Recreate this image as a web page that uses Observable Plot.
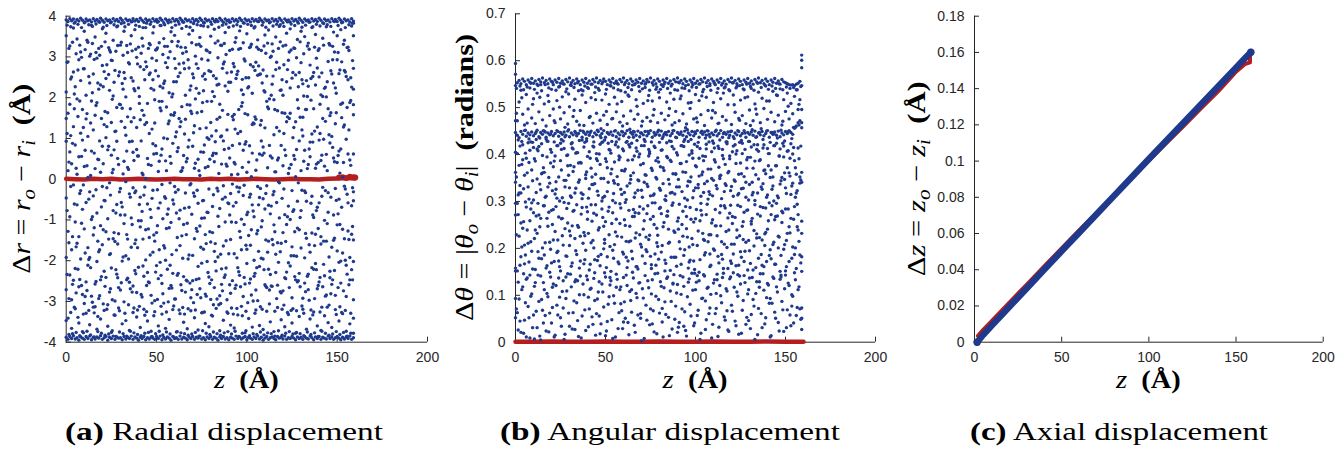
<!DOCTYPE html>
<html><head><meta charset="utf-8">
<script src="https://cdn.jsdelivr.net/npm/d3@7"></script>
<script src="https://cdn.jsdelivr.net/npm/@observablehq/plot@0.6"></script>
<style>
body{margin:0;background:#fff;}
#wrap{position:relative;width:1344px;height:453px;overflow:hidden;background:#fff;}
.panel{position:absolute;top:0;width:448px;height:390px;}
.cap{position:absolute;top:417px;font-family:"Liberation Serif","Times New Roman",serif;font-size:26px;line-height:30px;white-space:nowrap;transform:translateX(-50%);color:#000;}
</style></head><body>
<div id="wrap">
  <div class="panel" id="pa" style="left:0px"></div>
  <div class="panel" id="pb" style="left:448px"></div>
  <div class="panel" id="pc" style="left:896px"></div>
  <div class="cap" data-w="318" style="left:224px"><b>(a)</b> Radial displacement</div>
  <div class="cap" data-w="340" style="left:670px"><b>(b)</b> Angular displacement</div>
  <div class="cap" data-w="298" style="left:1119px"><b>(c)</b> Axial displacement</div>
</div>
<script>
// ---------- shared axis ticks ----------
const xTicks = [0, 50, 100, 150, 200];
const yTicksA = [-4, -3, -2, -1, 0, 1, 2, 3, 4];
const yTicksB = [0, 0.1, 0.2, 0.3, 0.4, 0.5, 0.6, 0.7];
const yTicksC = [0, 0.02, 0.04, 0.06, 0.08, 0.1, 0.12, 0.14, 0.16, 0.18];

// ---------- (a) radial displacement: [z, Δr values...] ----------
const radialCols = [
[0,3.91,-3.88,3.52,2.14,-0.46,-2.71,0.93,1.49,-1.92,-3.47],
[1,3.87,-3.93,-3.41,1.62,-1.28,0.21,2.88],
[2,3.94,-3.86,3.27,-2.35,0.67,-0.92,1.84],
[3,3.89,-3.91,-3.66,2.51,-1.73,0.38,-2.96],
[4,3.93,-3.84,3.71,-0.14,1.29,-2.48,2.63],
[5,3.86,-3.92,-3.18,0.84,-1.05,2.27,-2.19],
[6,3.92,-3.89,3.44,-1.57,1.97,-0.63,0.12],
[7,3.88,-3.95,-3.53,2.93,-2.64,0.55,-1.41],
[8,3.95,-3.87,3.12,1.13,-0.28,-1.96,2.42],
[9,3.9,-3.9,-3.74,-2.83,0.96,1.71,-0.74],
[10,3.84,-3.93,3.63,-1.22,2.71,-3.05,0.31],
[11,3.93,-3.86,-3.29,1.48,-0.57,2.06,-2.52],
[12,3.89,-3.91,3.36,-2.11,0.04,1.05,-1.68],
[13,3.91,-3.85,-3.57,2.36,-1.92,-0.31,3.02],
[14,3.86,-3.94,3.78,0.69,-2.87,1.92,-0.99],
[15,3.94,-3.88,-3.14,-0.41,2.58,-1.37,1.21],
[16,3.88,-3.92,3.49,-2.57,1.57,0.26,-3.13],
[17,3.92,-3.87,-3.68,1.88,-0.83,2.97,-2.02],
[18,3.87,-3.9,3.21,-1.78,0.48,-2.93,2.21],
[19,3.95,-3.84,-3.43,0.17,2.31,-1.14,-2.47],
[20,3.9,-3.93,3.69,2.79,-1.61,0.81,-0.18],
[21,3.85,-3.89,-3.22,-2.26,1.34,-0.52,2.64],
[22,3.93,-3.86,3.58,1.02,-2.41,2.47,-1.29],
[23,3.89,-3.95,-3.61,-0.97,0.72,-3.08,1.63],
[24,3.91,-3.88,3.17,2.18,-0.09,-1.85,-2.77],
[25,3.86,-3.91,-3.76,1.39,-2.18,0.59,2.92],
[26,3.94,-3.85,3.41,-1.46,2.04,-0.77,0.24],
[27,3.88,-3.93,-3.34,2.67,-2.99,1.17,-1.53],
[28,3.92,-3.87,3.74,-0.62,0.93,-2.33,1.76],
[29,3.87,-3.9,-3.16,0.36,-1.34,2.54,-2.66],
[30,3.95,-3.89,3.29,-2.72,1.83,-0.23,-0.88],
[31,3.9,-3.94,-3.55,1.74,-0.68,-2.01,2.35],
[32,3.84,-3.86,3.63,-1.09,2.62,0.44,-3.01],
[33,3.93,-3.92,-3.47,2.02,-1.88,-0.06,1.08],
[34,3.89,-3.88,3.11,-2.43,0.29,1.53,-1.47],
[35,3.91,-3.91,-3.71,0.92,-2.53,2.83,-0.36],
[36,3.86,-3.85,3.52,-1.67,1.41,-0.95,2.49],
[37,3.94,-3.93,-3.27,2.41,-0.21,-2.62,0.66],
[38,3.88,-3.87,3.67,-0.33,2.17,-1.58,-2.24],
[39,3.92,-3.9,-3.38,1.27,-2.78,0.73,2.99],
[40,3.87,-3.95,3.24,-2.16,0.57,2.24,-1.02],
[41,3.95,-3.88,-3.64,2.76,-1.17,-0.44,1.46],
[42,3.9,-3.91,3.46,-0.79,1.69,-2.89,0.15],
[43,3.85,-3.86,-3.19,1.57,-0.39,2.69,-2.38],
[44,3.93,-3.94,3.72,-1.98,2.88,0.02,-1.24],
[45,3.89,-3.89,-3.48,0.51,-2.29,1.86,-0.61],
[46,3.91,-3.92,3.33,-2.54,1.12,-1.43,2.57],
[47,3.86,-3.87,-3.73,2.23,-0.94,0.34,-2.85],
[48,3.94,-3.9,3.59,-0.27,2.44,-1.79,0.87],
[49,3.88,-3.93,-3.25,1.95,-1.52,-2.98,1.38],
[50,3.92,-3.86,3.18,-1.31,0.63,2.91,-2.12],
[51,3.87,-3.91,-3.6,2.53,-2.44,0.19,-0.71],
[52,3.95,-3.85,3.77,-2.04,1.75,-0.58,2.28],
[53,3.9,-3.94,-3.31,0.74,-0.13,-2.56,1.91],
[54,3.84,-3.88,3.45,-1.63,2.35,1.01,-3.04],
[55,3.93,-3.92,-3.66,2.86,-1.99,-0.47,0.45],
[56,3.89,-3.87,3.26,-0.86,0.99,-2.21,2.74],
[57,3.91,-3.9,-3.44,1.43,-2.68,2.12,-1.19],
[58,3.86,-3.95,3.62,-2.61,0.39,-1.06,1.58],
[59,3.94,-3.86,-3.2,2.09,-0.51,0.88,-2.31],
[60,3.88,-3.91,3.53,-0.18,1.63,-2.94,2.96],
[61,3.92,-3.89,-3.75,1.16,-1.74,2.39,-0.83],
[62,3.87,-3.93,3.38,-2.31,2.52,-0.26,0.77],
[63,3.95,-3.85,-3.3,2.61,-0.76,-1.63,1.29],
[64,3.9,-3.92,3.7,-1.39,0.21,1.78,-2.73],
[65,3.85,-3.88,-3.51,0.58,-2.39,2.85,-1.11],
[66,3.93,-3.9,3.23,-2.77,1.47,-0.34,2.06],
[67,3.89,-3.94,-3.67,1.83,-1.08,-2.5,0.51],
[68,3.91,-3.87,3.56,-0.69,2.73,0.96,-1.86],
[69,3.86,-3.91,-3.23,2.29,-2.91,-0.11,1.67],
[70,3.94,-3.86,3.65,-1.87,0.81,2.58,-2.49],
[71,3.88,-3.93,-3.4,0.27,-1.46,1.31,-0.42],
[72,3.92,-3.88,3.3,-2.46,2.23,-1.21,2.83],
[73,3.87,-3.9,-3.7,2.72,-0.59,0.49,-2.14],
[74,3.95,-3.85,3.48,-1.15,1.24,-2.69,0.09],
[75,3.9,-3.92,-3.28,1.66,-2.06,2.95,-0.96],
[76,3.84,-3.89,3.76,-0.52,0.66,-1.72,2.17],
[77,3.93,-3.94,-3.54,2.45,-2.82,0.28,-1.36],
[78,3.89,-3.87,3.15,-2.02,1.91,-0.81,1.02],
[79,3.91,-3.91,-3.62,0.98,-0.24,-2.4,2.66],
[80,3.86,-3.86,3.51,-1.54,2.64,1.39,-2.95],
[81,3.94,-3.93,-3.36,2.15,-1.31,-0.67,0.58],
[82,3.88,-3.88,3.68,-2.66,0.43,2.03,-1.77],
[83,3.92,-3.9,-3.17,0.63,-2.25,1.19,2.47],
[84,3.87,-3.95,3.39,-0.91,2.98,-1.91,-0.29],
[85,3.95,-3.87,-3.72,1.52,-0.72,-2.86,1.84],
[86,3.9,-3.91,3.28,-2.2,1.06,0.37,-2.58],
[87,3.85,-3.86,-3.46,2.83,-1.64,-0.16,0.94],
[88,3.93,-3.92,3.6,-0.44,2.29,-2.35,-1.05],
[89,3.89,-3.89,-3.26,1.21,-2.96,2.61,0.32],
[90,3.91,-3.94,3.73,-1.83,0.76,-0.6,2.38],
[91,3.86,-3.88,-3.58,2.38,-0.35,-1.48,-2.8],
[92,3.94,-3.9,3.19,-2.49,1.54,0.83,-0.12],
[93,3.88,-3.93,-3.65,0.41,-1.83,2.76,1.59],
[94,3.92,-3.85,3.47,-1.06,2.47,-2.6,-0.57],
[95,3.87,-3.91,-3.33,2.65,-2.17,0.12,1.12],
[96,3.95,-3.87,3.64,-0.21,0.87,-1.28,-2.36],
[97,3.9,-3.92,-3.12,1.79,-0.98,2.19,-1.73],
[98,3.84,-3.89,3.35,-2.88,2.08,-0.4,0.71],
[99,3.93,-3.86,-3.77,0.86,-2.57,1.61,2.9],
[100,3.89,-3.94,3.57,-1.72,0.17,-0.87,-2.07],
[101,3.91,-3.88,-3.42,2.27,-1.38,2.49,0.42],
[102,3.86,-3.9,3.25,-0.37,2.81,-2.45,-1.62],
[103,3.94,-3.93,-3.63,1.34,-0.63,0.64,2.11],
[104,3.88,-3.87,3.71,-2.38,1.36,-1.99,-0.92],
[105,3.92,-3.91,-3.21,0.22,-2.72,2.87,1.47],
[106,3.87,-3.85,3.42,-1.26,2.55,-0.18,-2.98],
[107,3.95,-3.92,-3.59,2.57,-0.45,-2.14,0.62],
[108,3.9,-3.88,3.16,-1.94,0.94,1.44,-1.17],
[109,3.85,-3.95,-3.69,0.79,-1.96,2.68,-0.48],
[110,3.93,-3.9,3.54,-2.59,2.14,-0.73,1.26],
[111,3.89,-3.86,-3.24,1.91,-0.16,-2.66,2.53],
[112,3.91,-3.93,3.66,-0.64,1.73,-1.52,-2.21],
[113,3.86,-3.89,-3.5,2.99,-2.34,0.57,-0.85],
[114,3.94,-3.87,3.32,-1.48,0.52,2.33,-2.63],
[115,3.88,-3.91,-3.74,1.09,-1.12,-0.3,1.95],
[116,3.92,-3.94,3.49,-2.29,2.69,-1.84,0.18],
[117,3.87,-3.86,-3.15,0.47,-2.6,1.68,-1.56],
[118,3.95,-3.9,3.75,-0.95,1.18,-0.09,2.73],
[119,3.9,-3.88,-3.45,2.19,-1.57,-2.79,0.83],
[120,3.84,-3.92,3.27,-2.74,0.33,2.06,-1.31],
[121,3.93,-3.85,-3.62,1.62,-0.87,0.72,-2.42],
[122,3.89,-3.93,3.58,-1.11,2.39,-2.28,1.41],
[123,3.91,-3.89,-3.32,0.14,-2.05,2.92,-0.66],
[124,3.86,-3.91,3.69,-2.13,1.62,-0.99,2.24],
[125,3.94,-3.86,-3.53,2.48,-0.28,-1.66,-2.91],
[126,3.88,-3.9,3.22,-0.75,0.58,1.27,-1.88],
[127,3.92,-3.94,-3.78,1.41,-2.47,2.56,0.06],
[128,3.87,-3.87,3.43,-2.52,1.95,-0.54,-1.2],
[129,3.95,-3.91,-3.37,0.94,-1.24,-2.31,2.62],
[130,3.9,-3.88,3.63,-1.69,2.86,0.21,-0.77],
[131,3.85,-3.93,-3.19,2.34,-2.92,1.06,1.52],
[132,3.93,-3.86,3.5,-0.29,0.71,-1.93,-2.55],
[133,3.89,-3.9,-3.68,1.71,-0.54,2.42,-1.45],
[134,3.91,-3.92,3.34,-2.33,2.28,-2.71,0.36],
[135,3.86,-3.85,-3.43,0.55,-1.79,0.91,2.8],
[136,3.94,-3.89,3.72,-1.32,1.11,-0.42,-2.17],
[137,3.88,-3.94,-3.26,2.62,-2.21,1.73,-0.94],
[138,3.92,-3.87,3.55,-2.07,0.27,-1.35,2.31],
[139,3.87,-3.91,-3.6,1.28,-0.69,2.73,-2.69],
[140,3.95,-3.86,3.2,-0.58,2.51,-2.52,0.96],
[141,3.9,-3.93,-3.71,2.07,-1.41,0.46,-1.59],
[142,3.84,-3.88,3.46,-2.64,1.49,-0.2,2.03],
[143,3.93,-3.9,-3.35,0.32,-2.37,2.23,-1.01],
[144,3.89,-3.92,3.74,-1.52,2.02,-2.84,0.61],
[145,3.91,-3.85,-3.52,2.89,-0.81,-0.33,1.73],
[146,3.86,-3.91,3.29,-2.42,0.89,1.56,-2.26],
[147,3.94,-3.87,-3.64,1.05,-1.67,-2.58,2.58],
[148,3.88,-3.93,3.61,-0.88,2.36,0.52,-1.5],
[149,3.92,-3.89,-3.2,2.24,-2.85,1.36,-0.23],
[150,3.87,-3.86,3.52,-1.76,0.41,-1.12,2.93],
[151,3.95,-3.9,-3.48,0.69,-0.49,2.59,-2.04],
[152,3.9,-3.94,3.67,-2.55,1.84,-2.01,0.74],
[153,3.85,-3.88,-3.3,1.87,-1.23,0.05,-1.81],
[154,3.93,-3.92,3.41,-0.17,2.67,-1.46,1.33],
[155,3.89,-3.87,-3.73,2.52,-2.11,0.98,-2.88],
[156,3.91,-3.91,3.24,-1.27,0.62,2.44,-0.58],
[157,3.86,-3.85,-3.55,0.47,-1.92,-2.47,1.88],
[158,3.94,-3.93,3.76,-2.22,2.26,-0.65,-1.35],
[159,3.88,-3.89,-3.41,1.58,-0.31,1.83,2.72,3.52,2.21,0.62,-0.53,-1.49,-2.02,-2.96,3.83,-3.78]
];
const radialColsHalf = [
[0.5,3.78,1.12,-2.34,2.87,-0.77],[1.5,-3.81,-1.56,0.42,3.21,-2.93],[2.5,3.74,2.46,-3.27,-0.18,1.07],
[3.5,-3.79,0.88,-1.41,3.36,-2.58],[4.5,3.83,-0.61,2.09,-3.14,1.73],[5.5,-3.76,3.08,-2.79,0.27,-1.66],
[6.5,3.8,-2.21,1.54,-3.39,2.68],[7.5,-3.84,1.92,-0.35,3.29,-2.46],[8.5,3.72,-1.08,2.99,-2.61,0.56],
[9.5,-3.77,2.71,-3.31,1.27,-0.14],[10.5,3.86,-2.88,0.71,-1.81,3.18],[11.5,-3.73,0.33,3.41,-2.73,1.61],
[12.5,3.79,-3.22,2.52,-0.49,-1.97],[13.5,-3.82,1.38,-2.17,3.07,0.09],[14.5,3.75,-0.92,3.33,-3.02,2.12],
[15.5,-3.87,2.94,-1.19,0.64,-3.28],[16.5,3.81,-2.51,1.81,-0.26,3.11],[17.5,-3.74,0.49,-3.37,2.36,-1.52],
[18.5,3.85,-1.73,3.04,-2.86,0.94],[19.5,-3.78,3.26,-0.68,1.49,-2.39],[20.5,3.73,-3.06,2.27,-1.24,0.38],
[21.5,-3.83,1.66,-2.63,3.37,-0.53],[22.5,3.77,-0.21,-3.19,2.81,1.29],[23.5,-3.8,2.57,-1.47,0.81,3.23],
[24.5,3.84,-2.69,3.12,-0.39,-1.83],[25.5,-3.72,0.16,-2.96,1.96,2.91],[26.5,3.79,-1.31,2.38,-3.33,0.72],
[27.5,-3.86,3.14,-0.83,1.18,-2.22],[28.5,3.76,-2.42,0.51,-1.59,3.28],[29.5,-3.75,1.84,-3.23,2.63,-0.31],
[30.5,3.82,-0.57,3.36,-2.54,1.42],[31.5,-3.79,2.21,-1.91,0.13,3.04],[32.5,3.74,-3.29,1.27,-0.88,2.47],
[33.5,-3.85,0.69,-2.47,3.28,-1.36],[34.5,3.8,-1.96,2.86,-3.08,0.24],[35.5,-3.73,3.32,-0.44,1.73,-2.69],
[36.5,3.87,-2.77,0.93,-1.11,3.15],[37.5,-3.77,1.51,-3.16,2.22,0.46],[38.5,3.78,-0.29,3.19,-2.32,-1.49],
[39.5,-3.81,2.83,-1.68,0.57,-3.21],[40.5,3.75,-3.12,2.03,-0.62,1.86],[41.5,-3.84,0.94,-2.83,3.09,-1.02],
[42.5,3.72,-1.47,3.27,-2.13,0.11],[43.5,-3.78,2.44,-0.19,1.34,-3.34],[44.5,3.83,-2.61,1.39,-3.25,2.76],
[45.5,-3.76,3.21,-1.22,0.36,-2.52],[46.5,3.8,-0.74,2.61,-1.86,3.3],[47.5,-3.86,1.23,-3.04,2.97,-0.47],
[48.5,3.74,-3.35,0.62,-1.37,2.19],[49.5,-3.79,2.66,-2.28,0.82,3.17],[50.5,3.85,-1.14,3.22,-2.95,-0.26],
[51.5,-3.73,0.44,-1.73,3.35,1.91],[52.5,3.77,-2.36,1.68,-3.12,0.59],[53.5,-3.82,3.06,-0.97,2.24,-2.81],
[54.5,3.79,-0.43,2.41,-1.69,3.26],[55.5,-3.75,1.77,-3.26,0.21,-1.21],[56.5,3.84,-3.01,2.98,-0.73,1.36],
[57.5,-3.8,0.56,-2.11,3.13,-0.09],[58.5,3.72,-1.85,3.38,-2.67,2.02],[59.5,-3.87,2.39,-0.61,1.57,-3.11],
[60.5,3.78,-2.94,1.04,-0.32,2.72],[61.5,-3.74,3.27,-1.43,0.68,-2.36],[62.5,3.81,-0.97,2.83,-3.21,1.49],
[63.5,-3.77,1.41,-2.59,3.24,0.19],[64.5,3.86,-3.15,0.28,-1.94,3.09],[65.5,-3.79,2.71,-3.31,1.11,-0.71],
[66.5,3.75,-1.36,3.13,-2.48,0.43],[67.5,-3.83,0.79,-1.96,2.93,-3.18],[68.5,3.73,-2.55,2.19,-0.14,1.82],
[69.5,-3.8,3.35,-0.86,1.61,-2.71],[70.5,3.82,-0.34,2.49,-3.03,1.14],[71.5,-3.76,1.97,-3.21,0.39,3.02],
[72.5,3.79,-2.83,1.63,-1.28,-0.27],[73.5,-3.85,0.21,-2.44,3.31,2.11],[74.5,3.77,-1.67,3.26,-2.91,0.67],
[75.5,-3.72,2.53,-0.53,1.88,-3.27],[76.5,3.84,-3.26,0.84,-0.95,2.59],[77.5,-3.78,1.26,-2.87,3.17,-1.58],
[78.5,3.74,-0.82,2.92,-2.29,0.31],[79.5,-3.81,3.11,-1.29,0.49,-2.56],[80.5,3.8,-2.47,1.91,-3.34,1.06],
[81.5,-3.75,0.64,-3.08,2.54,-0.38],[82.5,3.86,-1.58,3.34,-2.02,0.92],[83.5,-3.79,2.31,-0.22,1.47,-2.94],
[84.5,3.73,-3.08,2.33,-1.16,0.14],[85.5,-3.83,1.04,-1.84,3.29,-3.05],[86.5,3.78,-0.49,2.72,-2.74,1.69],
[87.5,-3.77,2.88,-2.41,0.73,3.33],[88.5,3.81,-2.18,0.37,-1.51,3.06],[89.5,-3.74,1.59,-3.29,2.16,-0.58],
[90.5,3.85,-0.88,3.16,-2.59,0.52],[91.5,-3.8,2.63,-1.05,0.11,-3.16],[92.5,3.76,-3.31,1.46,-0.66,2.84],
[93.5,-3.73,0.37,-2.68,3.36,1.23],[94.5,3.79,-1.93,2.57,-3.17,-0.19],[95.5,-3.86,3.19,-0.31,1.71,-2.27],
[96.5,3.75,-2.64,1.17,-1.43,3.21],[97.5,-3.78,1.88,-3.35,0.29,2.45],[98.5,3.83,-0.15,2.95,-2.41,-1.11],
[99.5,-3.72,2.49,-1.62,0.92,-3.24],[100.5,3.8,-3.03,2.24,-0.81,1.58],[101.5,-3.84,0.82,-2.55,3.23,-0.44],
[102.5,3.77,-1.24,3.31,-2.84,0.06],[103.5,-3.79,2.76,-0.78,1.38,-2.99],[104.5,3.74,-2.31,1.53,-3.29,2.67],
[105.5,-3.81,3.24,-1.34,0.47,-2.17],[106.5,3.87,-0.63,2.78,-1.77,3.19],[107.5,-3.75,1.33,-3.13,2.58,-0.23],
[108.5,3.78,-3.19,0.59,-1.02,2.36],[109.5,-3.82,2.17,-2.22,0.64,3.27],[110.5,3.73,-1.49,3.09,-2.63,-0.35],
[111.5,-3.77,0.28,-1.79,3.34,1.77],[112.5,3.84,-2.72,1.97,-3.06,0.83],[113.5,-3.79,3.02,-0.66,2.06,-2.62],
[114.5,3.76,-0.38,2.53,-1.61,3.14],[115.5,-3.85,1.71,-3.24,0.18,-1.29],[116.5,3.8,-2.93,2.87,-0.57,1.27],
[117.5,-3.72,0.52,-2.04,3.21,-0.06],[118.5,3.79,-1.78,3.37,-2.76,2.18],[119.5,-3.83,2.44,-0.47,1.63,-3.19],
[120.5,3.75,-3.09,1.12,-0.24,2.81],[121.5,-3.78,3.29,-1.53,0.58,-2.44],[122.5,3.86,-0.92,2.69,-3.27,1.53],
[123.5,-3.74,1.49,-2.66,3.12,0.27],[124.5,3.81,-3.22,0.36,-1.88,3.17],[125.5,-3.8,2.62,-3.18,1.02,-0.79],
[126.5,3.77,-1.29,3.21,-2.39,0.49],[127.5,-3.76,0.73,-1.89,2.98,-3.23],[128.5,3.83,-2.49,2.27,-0.09,1.74],
[129.5,-3.79,3.37,-0.94,1.52,-2.64],[130.5,3.73,-0.27,2.44,-3.11,1.21],[131.5,-3.84,2.04,-3.29,0.44,3.08],
[132.5,3.78,-2.76,1.71,-1.33,-0.33],[133.5,-3.75,0.26,-2.38,3.27,2.03],[134.5,3.85,-1.61,3.19,-2.97,0.74],
[135.5,-3.81,2.47,-0.59,1.94,-3.21],[136.5,3.74,-3.33,0.91,-0.88,2.52],[137.5,-3.77,1.18,-2.93,3.24,-1.63],
[138.5,3.8,-0.77,2.97,-2.22,0.37],[139.5,-3.86,3.16,-1.21,0.41,-2.61],[140.5,3.76,-2.41,1.84,-3.26,1.12],
[141.5,-3.73,0.59,-3.14,2.61,-0.42],[142.5,3.82,-1.52,3.29,-2.09,0.98],[143.5,-3.78,2.26,-0.28,1.42,-2.87],
[144.5,3.79,-3.14,2.39,-1.09,0.21],[145.5,-3.83,1.09,-1.91,3.33,-3.09],[146.5,3.75,-0.44,2.66,-2.81,1.63],
[147.5,-3.8,2.93,-2.47,0.78,3.26],[148.5,3.87,-2.24,0.43,-1.45,3.12],[149.5,-3.74,1.63,-3.32,2.11,-0.52],
[150.5,3.77,-0.85,3.11,-2.66,0.58],[151.5,-3.81,2.68,-1.11,0.15,-3.13],[152.5,3.84,-3.27,1.51,-0.69,2.88],
[153.5,-3.76,0.41,-2.74,3.31,1.28],[154.5,3.72,-1.99,2.63,-3.22,-0.24],[155.5,-3.85,3.23,-0.37,1.76,-2.33],
[156.5,3.79,-2.59,1.21,-1.48,3.16],[157.5,-3.78,1.93,-3.29,0.34,2.49],[158.5,3.83,-0.21,2.91,-2.47,-1.16]
];
const radialRedZ = [0,5,10,15,20,25,30,35,40,45,50,55,60,65,70,75,80,85,90,95,100,105,110,115,120,125,130,135,140,145,150,155,160];
const radialRed  = [0.01,0,-0.01,0.01,0,0.01,-0.01,0,0.01,0,-0.01,0,0.01,0,0,-0.01,0.01,0,0.01,-0.01,0,0.01,0,-0.01,0,0.01,0,0,-0.01,0.01,0.02,0.03,0.02];
const radialRedEndZ = [151,153,155,157,159,160];
const radialRedEnd  = [0.04,0.05,0.03,0.06,0.05,0.04];

// ---------- (b) angular displacement: [z, Δθ values...] ----------
const angularCols = [
[0,0.594,0.571,0.547,0.472,0.447,0.405,0.362,0.341,0.296,0.271,0.158,0.152,0.093,0.052],
[1,0.553,0.441,0.472,0.402,0.296,0.152,0.063],[2,0.558,0.436,0.512,0.377,0.226,0.092,0.318],
[3,0.551,0.449,0.537,0.318,0.182,0.021,0.254],[4,0.561,0.443,0.486,0.421,0.243,0.118,0.389],
[5,0.556,0.451,0.463,0.356,0.167,0.047,0.207],[6,0.549,0.439,0.528,0.392,0.288,0.134,0.011],
[7,0.559,0.446,0.497,0.331,0.211,0.076,0.425],[8,0.554,0.442,0.542,0.409,0.259,0.009,0.143],
[9,0.562,0.448,0.478,0.367,0.194,0.103,0.297],[10,0.552,0.44,0.519,0.303,0.276,0.058,0.415],
[11,0.557,0.445,0.466,0.386,0.155,0.127,0.239],[12,0.55,0.452,0.531,0.348,0.232,0.031,0.412],
[13,0.56,0.438,0.491,0.417,0.179,0.087,0.271],[14,0.555,0.447,0.549,0.325,0.264,0.141,0.005],
[15,0.563,0.443,0.474,0.398,0.201,0.068,0.361],[16,0.553,0.45,0.508,0.362,0.291,0.112,0.186],
[17,0.558,0.437,0.461,0.311,0.158,0.024,0.433],[18,0.551,0.446,0.526,0.428,0.247,0.097,0.331],
[19,0.561,0.442,0.483,0.339,0.213,0.149,0.062],[20,0.556,0.449,0.539,0.405,0.169,0.041,0.281],
[21,0.549,0.44,0.497,0.374,0.283,0.124,0.218],[22,0.559,0.445,0.468,0.316,0.236,0.015,0.397],
[23,0.554,0.451,0.515,0.419,0.191,0.079,0.307],[24,0.562,0.439,0.544,0.352,0.267,0.137,0.173],
[25,0.552,0.447,0.476,0.387,0.152,0.052,0.424],[26,0.557,0.443,0.523,0.308,0.227,0.108,0.264],
[27,0.55,0.448,0.489,0.413,0.298,0.006,0.345],[28,0.56,0.441,0.534,0.345,0.184,0.093,0.139],
[29,0.555,0.45,0.465,0.399,0.254,0.146,0.376],[30,0.563,0.438,0.502,0.329,0.206,0.034,0.237],
[31,0.553,0.446,0.547,0.423,0.162,0.118,0.309],[32,0.558,0.442,0.481,0.364,0.279,0.063,0.412],
[33,0.551,0.449,0.518,0.318,0.221,0.129,0.027],[34,0.561,0.44,0.471,0.404,0.187,0.084,0.293],
[35,0.556,0.445,0.536,0.341,0.245,0.012,0.382],[36,0.549,0.451,0.494,0.383,0.173,0.141,0.226],
[37,0.559,0.437,0.527,0.306,0.287,0.056,0.431],[38,0.554,0.447,0.462,0.416,0.234,0.101,0.167],
[39,0.562,0.443,0.511,0.357,0.196,0.025,0.349],[40,0.552,0.448,0.543,0.396,0.262,0.133,0.278],
[41,0.557,0.441,0.479,0.327,0.154,0.071,0.406],[42,0.55,0.45,0.521,0.371,0.293,0.115,0.212],
[43,0.56,0.438,0.467,0.418,0.217,0.038,0.336],[44,0.555,0.446,0.532,0.338,0.176,0.148,0.089],
[45,0.563,0.442,0.488,0.402,0.271,0.061,0.391],[46,0.553,0.449,0.541,0.313,0.239,0.107,0.183],
[47,0.558,0.44,0.473,0.379,0.163,0.018,0.422],[48,0.551,0.445,0.516,0.426,0.284,0.124,0.301],
[49,0.561,0.451,0.484,0.349,0.199,0.075,0.247],[50,0.556,0.437,0.529,0.391,0.257,0.139,0.014],
[51,0.549,0.447,0.464,0.321,0.182,0.044,0.372],[52,0.559,0.443,0.507,0.411,0.229,0.097,0.288],
[53,0.554,0.448,0.546,0.359,0.151,0.131,0.403],[54,0.562,0.441,0.477,0.302,0.276,0.008,0.196],
[55,0.552,0.45,0.522,0.384,0.208,0.083,0.339],[56,0.557,0.438,0.491,0.427,0.262,0.145,0.117],
[57,0.55,0.446,0.538,0.336,0.171,0.029,0.416],[58,0.56,0.442,0.469,0.394,0.295,0.112,0.253],
[59,0.555,0.449,0.513,0.315,0.224,0.067,0.366],[60,0.563,0.44,0.482,0.408,0.188,0.138,0.043],
[61,0.553,0.445,0.533,0.369,0.249,0.051,0.298],[62,0.558,0.451,0.466,0.333,0.159,0.121,0.428],
[63,0.551,0.437,0.524,0.421,0.281,0.016,0.214],[64,0.561,0.447,0.493,0.355,0.216,0.089,0.347],
[65,0.556,0.443,0.548,0.389,0.178,0.149,0.268],[66,0.549,0.448,0.475,0.309,0.268,0.036,0.397],
[67,0.559,0.441,0.517,0.414,0.233,0.104,0.161],[68,0.554,0.45,0.486,0.346,0.156,0.058,0.324],
[69,0.562,0.438,0.535,0.401,0.289,0.127,0.229],[70,0.552,0.446,0.461,0.324,0.203,0.003,0.419],
[71,0.557,0.442,0.509,0.381,0.241,0.094,0.284],[72,0.55,0.449,0.543,0.428,0.168,0.142,0.357],
[73,0.56,0.44,0.479,0.337,0.274,0.047,0.193],[74,0.555,0.445,0.526,0.397,0.219,0.116,0.411],
[75,0.563,0.451,0.471,0.312,0.183,0.071,0.262],[76,0.553,0.437,0.514,0.366,0.297,0.133,0.039],
[77,0.558,0.447,0.496,0.418,0.251,0.022,0.316],[78,0.551,0.443,0.539,0.351,0.164,0.098,0.387],
[79,0.561,0.448,0.468,0.393,0.228,0.147,0.204],[80,0.556,0.441,0.521,0.328,0.285,0.062,0.426],
[81,0.549,0.45,0.488,0.409,0.192,0.119,0.274],[82,0.559,0.438,0.545,0.372,0.246,0.011,0.338],
[83,0.554,0.446,0.474,0.304,0.175,0.086,0.152],[84,0.562,0.442,0.512,0.425,0.269,0.136,0.396],
[85,0.552,0.449,0.483,0.347,0.211,0.053,0.241],[86,0.557,0.44,0.531,0.388,0.153,0.109,0.318],
[87,0.55,0.445,0.463,0.319,0.292,0.028,0.417],[88,0.56,0.451,0.518,0.412,0.237,0.144,0.181],
[89,0.555,0.437,0.492,0.358,0.181,0.077,0.359],[90,0.563,0.447,0.537,0.399,0.258,0.123,0.021],
[91,0.553,0.443,0.472,0.331,0.214,0.042,0.294],[92,0.558,0.448,0.525,0.419,0.166,0.102,0.381],
[93,0.551,0.441,0.487,0.363,0.279,0.139,0.226],[94,0.561,0.45,0.541,0.307,0.197,0.065,0.432],
[95,0.556,0.438,0.465,0.385,0.242,0.013,0.268],[96,0.549,0.446,0.51,0.428,0.158,0.128,0.343],
[97,0.559,0.442,0.498,0.342,0.287,0.081,0.175],[98,0.554,0.449,0.544,0.403,0.221,0.147,0.408],
[99,0.562,0.44,0.476,0.323,0.173,0.035,0.256],[100,0.552,0.445,0.528,0.376,0.263,0.112,0.329],
[101,0.557,0.451,0.469,0.417,0.206,0.057,0.142],[102,0.55,0.437,0.515,0.354,0.149,0.131,0.392],
[103,0.56,0.447,0.485,0.311,0.296,0.019,0.281],[104,0.555,0.443,0.534,0.397,0.232,0.094,0.363],
[105,0.563,0.448,0.462,0.338,0.186,0.141,0.217],[106,0.553,0.441,0.522,0.422,0.272,0.048,0.412],
[107,0.558,0.45,0.494,0.369,0.214,0.117,0.305],[108,0.551,0.438,0.547,0.315,0.161,0.073,0.188],
[109,0.561,0.446,0.478,0.406,0.254,0.009,0.349],[110,0.556,0.442,0.511,0.345,0.199,0.126,0.424],
[111,0.549,0.449,0.489,0.384,0.283,0.061,0.248],[112,0.559,0.44,0.532,0.327,0.227,0.145,0.133],
[113,0.554,0.445,0.467,0.413,0.169,0.032,0.373],[114,0.562,0.451,0.519,0.356,0.248,0.099,0.291],
[115,0.552,0.437,0.481,0.398,0.177,0.138,0.411],[116,0.557,0.447,0.542,0.321,0.291,0.054,0.209],
[117,0.55,0.443,0.473,0.427,0.236,0.114,0.334],[118,0.56,0.448,0.506,0.361,0.157,0.026,0.265],
[119,0.555,0.441,0.536,0.391,0.275,0.135,0.397],[120,0.563,0.45,0.464,0.332,0.209,0.079,0.168],
[121,0.553,0.438,0.527,0.418,0.188,0.148,0.311],[122,0.558,0.446,0.49,0.343,0.266,0.045,0.421],
[123,0.551,0.442,0.545,0.408,0.223,0.107,0.239],[124,0.561,0.449,0.477,0.317,0.164,0.017,0.358],
[125,0.556,0.44,0.516,0.382,0.289,0.124,0.193],[126,0.549,0.445,0.483,0.424,0.247,0.068,0.402],
[127,0.559,0.451,0.538,0.353,0.172,0.142,0.277],[128,0.554,0.437,0.466,0.309,0.213,0.038,0.341],
[129,0.562,0.447,0.523,0.394,0.282,0.103,0.154],[130,0.552,0.443,0.495,0.336,0.195,0.137,0.428],
[131,0.557,0.448,0.541,0.416,0.258,0.059,0.252],[132,0.55,0.441,0.472,0.371,0.154,0.091,0.319],
[133,0.56,0.45,0.508,0.302,0.293,0.006,0.386],[134,0.555,0.438,0.486,0.411,0.231,0.129,0.222],
[135,0.563,0.446,0.533,0.348,0.179,0.072,0.407],[136,0.553,0.442,0.468,0.389,0.269,0.146,0.289],
[137,0.558,0.449,0.52,0.326,0.218,0.031,0.164],[138,0.551,0.44,0.498,0.421,0.161,0.111,0.366],
[139,0.561,0.445,0.546,0.359,0.286,0.052,0.234],[140,0.556,0.451,0.475,0.314,0.241,0.125,0.413],
[141,0.549,0.437,0.514,0.402,0.185,0.083,0.297],[142,0.559,0.447,0.49,0.367,0.272,0.014,0.178],
[143,0.554,0.443,0.535,0.333,0.208,0.139,0.352],[144,0.562,0.448,0.47,0.419,0.166,0.064,0.261],
[145,0.552,0.441,0.527,0.376,0.296,0.118,0.424],[146,0.557,0.45,0.484,0.308,0.226,0.042,0.201],
[147,0.55,0.438,0.54,0.412,0.151,0.134,0.337],[148,0.56,0.446,0.463,0.351,0.255,0.087,0.279],
[149,0.555,0.442,0.517,0.395,0.198,0.023,0.418],[150,0.553,0.449,0.492,0.329,0.284,0.143,0.152],
[151,0.551,0.445,0.531,0.407,0.232,0.069,0.372],[152,0.549,0.451,0.476,0.361,0.172,0.121,0.246],
[153,0.548,0.447,0.509,0.423,0.264,0.035,0.315],[154,0.549,0.443,0.487,0.339,0.203,0.098,0.401],
[155,0.547,0.456,0.524,0.387,0.289,0.148,0.187],[156,0.55,0.461,0.538,0.318,0.157,0.057,0.358],
[157,0.552,0.468,0.496,0.414,0.239,0.112,0.272],[158,0.556,0.472,0.517,0.352,0.186,0.071,0.339],
[159,0.612,0.601,0.585,0.547,0.496,0.468,0.457,0.362,0.341,0.258,0.232,0.182,0.151,0.073,0.051,0.027]
];
const angularColsHalf = [
[0.5,0.541,0.352,0.229,0.071,0.488],[1.5,0.431,0.314,0.272,0.128,0.026],[2.5,0.546,0.418,0.164,0.045,0.334],
[3.5,0.428,0.379,0.203,0.112,0.521],[4.5,0.538,0.327,0.257,0.019,0.146],[5.5,0.452,0.403,0.186,0.084,0.299],
[6.5,0.544,0.361,0.239,0.137,0.467],[7.5,0.433,0.305,0.171,0.052,0.383],[8.5,0.552,0.427,0.284,0.098,0.214],
[9.5,0.426,0.344,0.156,0.031,0.507],[10.5,0.539,0.391,0.221,0.119,0.007],[11.5,0.448,0.319,0.269,0.066,0.432],
[12.5,0.547,0.408,0.193,0.143,0.296],[13.5,0.435,0.337,0.246,0.013,0.522],[14.5,0.536,0.423,0.178,0.091,0.359],
[15.5,0.451,0.372,0.291,0.127,0.041],[16.5,0.549,0.309,0.212,0.057,0.448],[17.5,0.429,0.395,0.163,0.104,0.264],
[18.5,0.542,0.351,0.277,0.022,0.513],[19.5,0.444,0.411,0.198,0.139,0.382],[20.5,0.554,0.323,0.251,0.074,0.117],
[21.5,0.427,0.386,0.172,0.011,0.472],[22.5,0.537,0.342,0.289,0.121,0.326],[23.5,0.449,0.419,0.218,0.058,0.194],
[24.5,0.545,0.301,0.161,0.096,0.501],[25.5,0.432,0.367,0.263,0.034,0.411],[26.5,0.551,0.429,0.207,0.131,0.073],
[27.5,0.438,0.331,0.242,0.017,0.458],[28.5,0.54,0.398,0.183,0.109,0.285],[29.5,0.453,0.356,0.296,0.062,0.529],
[30.5,0.548,0.312,0.227,0.145,0.377],[31.5,0.425,0.414,0.169,0.028,0.248],[32.5,0.543,0.374,0.281,0.088,0.494],
[33.5,0.446,0.328,0.195,0.133,0.403],[34.5,0.553,0.404,0.249,0.046,0.131],[35.5,0.43,0.346,0.158,0.101,0.463],
[36.5,0.538,0.382,0.273,0.009,0.318],[37.5,0.45,0.315,0.211,0.124,0.536],[38.5,0.546,0.426,0.176,0.069,0.227],
[39.5,0.434,0.363,0.288,0.141,0.429],[40.5,0.541,0.307,0.232,0.033,0.096],[41.5,0.447,0.392,0.166,0.113,0.481],
[42.5,0.55,0.336,0.258,0.054,0.352],[43.5,0.427,0.416,0.201,0.136,0.275],[44.5,0.544,0.358,0.293,0.015,0.517],
[45.5,0.452,0.322,0.174,0.092,0.387],[46.5,0.537,0.401,0.244,0.129,0.056],[47.5,0.436,0.349,0.187,0.039,0.455],
[48.5,0.555,0.427,0.266,0.107,0.308],[49.5,0.431,0.311,0.219,0.148,0.211],[50.5,0.539,0.385,0.159,0.024,0.492],
[51.5,0.445,0.341,0.279,0.081,0.424],[52.5,0.547,0.409,0.204,0.122,0.138],[53.5,0.428,0.369,0.253,0.048,0.476],
[54.5,0.542,0.317,0.179,0.099,0.344],[55.5,0.451,0.421,0.297,0.011,0.235],[56.5,0.552,0.353,0.226,0.134,0.508],
[57.5,0.433,0.397,0.167,0.063,0.389],[58.5,0.536,0.326,0.286,0.118,0.082],[59.5,0.448,0.412,0.192,0.029,0.461],
[60.5,0.549,0.365,0.261,0.086,0.319],[61.5,0.426,0.304,0.215,0.143,0.181],[62.5,0.543,0.388,0.173,0.042,0.527],
[63.5,0.454,0.339,0.247,0.108,0.416],[64.5,0.538,0.424,0.194,0.064,0.112],[65.5,0.437,0.361,0.283,0.137,0.449],
[66.5,0.551,0.318,0.222,0.021,0.276],[67.5,0.43,0.407,0.161,0.095,0.503],[68.5,0.545,0.344,0.275,0.126,0.395],
[69.5,0.446,0.378,0.209,0.051,0.061],[70.5,0.54,0.309,0.184,0.114,0.471],[71.5,0.432,0.419,0.259,0.008,0.341],
[72.5,0.553,0.356,0.197,0.079,0.224],[73.5,0.449,0.332,0.291,0.131,0.515],[74.5,0.537,0.402,0.228,0.037,0.406],
[75.5,0.427,0.371,0.165,0.103,0.157],[76.5,0.548,0.313,0.268,0.067,0.484],[77.5,0.441,0.415,0.188,0.146,0.297],
[78.5,0.544,0.348,0.243,0.018,0.212],[79.5,0.452,0.384,0.177,0.091,0.533],[80.5,0.539,0.324,0.287,0.129,0.374],
[81.5,0.434,0.41,0.206,0.043,0.072],[82.5,0.55,0.366,0.255,0.116,0.443],[83.5,0.447,0.302,0.168,0.059,0.312],
[84.5,0.541,0.393,0.279,0.139,0.269],[85.5,0.429,0.337,0.213,0.014,0.498],[86.5,0.546,0.428,0.181,0.087,0.385],
[87.5,0.451,0.359,0.297,0.124,0.126],[88.5,0.538,0.316,0.234,0.049,0.468],[89.5,0.436,0.404,0.162,0.105,0.331],
[90.5,0.554,0.347,0.265,0.032,0.241],[91.5,0.444,0.381,0.199,0.142,0.519],[92.5,0.542,0.321,0.251,0.071,0.419],
[93.5,0.428,0.417,0.185,0.119,0.034],[94.5,0.547,0.362,0.289,0.025,0.457],[95.5,0.453,0.333,0.224,0.097,0.303],
[96.5,0.536,0.399,0.171,0.135,0.203],[97.5,0.432,0.352,0.262,0.056,0.511],[98.5,0.549,0.308,0.208,0.111,0.392],
[99.5,0.448,0.422,0.155,0.041,0.147],[100.5,0.543,0.374,0.283,0.128,0.478],[101.5,0.426,0.329,0.237,0.068,0.336],
[102.5,0.551,0.413,0.176,0.006,0.259],[103.5,0.45,0.357,0.271,0.093,0.525],[104.5,0.539,0.319,0.219,0.144,0.387],
[105.5,0.435,0.396,0.191,0.027,0.088],[106.5,0.545,0.343,0.294,0.115,0.451],[107.5,0.443,0.427,0.229,0.061,0.321],
[108.5,0.537,0.369,0.164,0.102,0.229],[109.5,0.429,0.312,0.261,0.038,0.494],[110.5,0.552,0.389,0.196,0.133,0.414],
[111.5,0.452,0.334,0.248,0.072,0.104],[112.5,0.541,0.418,0.183,0.012,0.466],[113.5,0.431,0.354,0.276,0.121,0.349],
[114.5,0.548,0.306,0.214,0.084,0.187],[115.5,0.445,0.391,0.157,0.147,0.531],[116.5,0.544,0.338,0.286,0.047,0.379],
[117.5,0.427,0.423,0.202,0.109,0.067],[118.5,0.538,0.364,0.239,0.023,0.436],[119.5,0.449,0.323,0.173,0.139,0.292],
[120.5,0.553,0.406,0.268,0.066,0.253],[121.5,0.434,0.346,0.209,0.117,0.506],[122.5,0.542,0.381,0.163,0.035,0.401],
[123.5,0.451,0.314,0.292,0.098,0.144],[124.5,0.547,0.426,0.227,0.141,0.473],[125.5,0.43,0.359,0.181,0.019,0.327],
[126.5,0.54,0.328,0.257,0.089,0.219],[127.5,0.446,0.411,0.194,0.127,0.521],[128.5,0.55,0.371,0.281,0.053,0.389],
[129.5,0.428,0.303,0.217,0.112,0.046],[130.5,0.545,0.394,0.168,0.029,0.462],[131.5,0.453,0.341,0.264,0.138,0.314],
[132.5,0.537,0.421,0.205,0.077,0.238],[133.5,0.437,0.357,0.159,0.104,0.497],[134.5,0.552,0.318,0.273,0.016,0.421],
[135.5,0.447,0.387,0.223,0.129,0.117],[136.5,0.543,0.331,0.187,0.061,0.455],[137.5,0.432,0.414,0.287,0.146,0.338],
[138.5,0.548,0.367,0.231,0.039,0.206],[139.5,0.45,0.309,0.172,0.095,0.514],[140.5,0.539,0.402,0.259,0.122,0.376],
[141.5,0.426,0.351,0.197,0.011,0.093],[142.5,0.546,0.326,0.291,0.083,0.447],[143.5,0.444,0.419,0.213,0.136,0.301],
[144.5,0.541,0.376,0.166,0.051,0.268],[145.5,0.435,0.312,0.269,0.107,0.526],[146.5,0.551,0.397,0.224,0.024,0.397],
[147.5,0.452,0.344,0.185,0.143,0.139],[148.5,0.538,0.424,0.276,0.069,0.471],[149.5,0.429,0.361,0.208,0.114,0.347],
[150.5,0.544,0.317,0.161,0.031,0.217],[151.5,0.448,0.408,0.284,0.126,0.503],[152.5,0.541,0.354,0.233,0.058,0.392],
[153.5,0.434,0.333,0.179,0.101,0.077],[154.5,0.543,0.415,0.262,0.041,0.458],[155.5,0.458,0.372,0.201,0.133,0.309],
[156.5,0.538,0.323,0.294,0.074,0.246],[157.5,0.463,0.391,0.215,0.118,0.507],[158.5,0.545,0.346,0.169,0.049,0.418]
];
const angularRedZ = [0,10,20,30,40,50,60,70,80,90,100,110,120,130,140,150,160];
const angularRed  = [0.001,0.001,0.0015,0.001,0.001,0.0015,0.001,0.001,0.0015,0.001,0.001,0.0015,0.001,0.001,0.0015,0.001,0.001];

// ---------- (c) axial displacement ----------
const axialBlueZ = [1.5,5,10,20,30,40,50,60,70,80,90,100,110,120,130,140,150,155,158.5];
const axialBlue  = [0,0.0041,0.0093,0.0196,0.0298,0.0401,0.0503,0.0604,0.0706,0.0808,0.0909,0.1011,0.1112,0.1213,0.1314,0.1415,0.1516,0.1566,0.1601];
const axialRedZ  = [2,5,10,20,30,40,50,60,70,80,90,100,110,120,130,140,150,155,158,158];
const axialRed   = [0.0035,0.0068,0.0118,0.0219,0.0318,0.0419,0.0518,0.0617,0.0713,0.0809,0.0905,0.1003,0.1099,0.1195,0.1292,0.1388,0.1494,0.1535,0.1545,0.1585];

// ---------- styling ----------
const ink = "#262626";
const BLUE = "#1f3a8c";
const RED = "#b41e1e";
const serif = "'Liberation Serif','Times New Roman',serif";

const toPts = cols => cols.flatMap(([z, ...vs]) => vs.map(v => ({z, v})));
const radialPts = toPts(radialCols).concat(toPts(radialColsHalf));
const angularPts = toPts(angularCols).concat(toPts(angularColsHalf));
const radialRedPts = radialRedZ.map((z, i) => ({z, v: radialRed[i]}));
const radialRedEndPts = radialRedEndZ.map((z, i) => ({z, v: radialRedEnd[i]}));
const angularRedPts = angularRedZ.map((z, i) => ({z, v: angularRed[i]}));
const axialBluePts = axialBlueZ.map((z, i) => ({z, v: axialBlue[i]}));
const axialRedPts = axialRedZ.map((z, i) => ({z, v: axialRed[i]}));

// segments: {t, i: italic, b: bold, sub: subscript, up: return from subscript}
function writeSegs(text, segs) {
  segs.forEach(s => {
    const ts = text.append("tspan").text(s.t);
    if (s.i) ts.style("font-style", "italic");
    if (s.b) ts.style("font-weight", "bold");
    if (s.sub) ts.style("font-size", "18px").attr("dy", 5);
    if (s.up) ts.attr("dy", -5);
  });
}

function makePanel(el, {ml, mr, mt, mb, yDomain, yTicks, marks, ysegs, ylabelX, ylabelLen}) {
  const W = 448, H = 390;
  const iw = W - ml - mr, ih = H - mt - mb;
  const svg = Plot.plot({
    width: W, height: H,
    marginLeft: ml, marginRight: mr, marginTop: mt, marginBottom: mb,
    x: {domain: [0, 200]},
    y: {domain: yDomain},
    style: {fontFamily: "'Liberation Sans', Arial, sans-serif", fontSize: "14px", color: ink, background: "transparent", overflow: "visible"},
    marks: [
      Plot.ruleX([0], {stroke: ink, strokeWidth: 1}),
      Plot.ruleY([yDomain[0]], {stroke: ink, strokeWidth: 1}),
      Plot.tickY(yTicks, {y: d => d, stroke: ink, insetRight: iw - 5}),
      Plot.tickX(xTicks, {x: d => d, stroke: ink, insetTop: ih - 5}),
      Plot.axisY({ticks: yTicks, tickSize: 0, tickPadding: 10, tickFormat: d => String(d), label: null, fontSize: 14, fill: ink}),
      Plot.axisX({ticks: xTicks, tickSize: 0, tickPadding: 10, tickFormat: d => String(d), label: null, fontSize: 14, fill: ink}),
      ...marks
    ]
  });
  el.appendChild(svg);
  const s = d3.select(svg);
  // x label: z (Å)
  const cx = ml + iw / 2;
  const xl = s.append("text").attr("text-anchor", "middle")
    .style("font-family", serif).style("font-size", "26px").attr("fill", "#000");
  writeSegs(xl, [{t: "z", i: true}, {t: "\u2002(Å)", b: true}]);
  const xw = xl.node().getComputedTextLength();
  xl.attr("transform", `translate(${cx},388) scale(${65 / xw},1)`);
  // y label
  const yl = s.append("text").attr("text-anchor", "middle")
    .style("font-family", serif).style("font-size", "26px").attr("fill", "#000");
  writeSegs(yl, ysegs);
  const yw = yl.node().getComputedTextLength();
  yl.attr("transform", `translate(${ylabelX},${mt + ih / 2}) rotate(-90) scale(${ylabelLen / yw},1)`);
}

makePanel(document.getElementById("pa"), {
  ml: 65.7, mr: 21, mt: 15.7, mb: 48.3, yDomain: [-4, 4], yTicks: yTicksA, ylabelX: 30, ylabelLen: 190,
  ysegs: [{t: "Δ"}, {t: "r", i: true}, {t: " = "}, {t: "r", i: true}, {t: "o", i: true, sub: true},
          {t: " − ", up: true}, {t: "r", i: true}, {t: "i", i: true, sub: true}, {t: "\u2002(Å)", b: true, up: true}],
  marks: [
    Plot.line(radialRedPts, {x: "z", y: "v", stroke: RED, strokeWidth: 4.5, strokeLinecap: "round"}),
    Plot.dot(radialRedEndPts, {x: "z", y: "v", fill: RED, r: 3}),
    Plot.dot(radialPts, {x: "z", y: "v", fill: BLUE, r: 1.7})
  ]
});

makePanel(document.getElementById("pb"), {
  ml: 67, mr: 21, mt: 13.3, mb: 48.3, yDomain: [0, 0.7], yTicks: yTicksB, ylabelX: 25, ylabelLen: 287,
  ysegs: [{t: "Δ"}, {t: "θ", i: true}, {t: " = |"}, {t: "θ", i: true}, {t: "o", i: true, sub: true},
          {t: " − ", up: true}, {t: "θ", i: true}, {t: "i", i: true, sub: true}, {t: "|", up: true}, {t: "\u2002(radians)", b: true}],
  marks: [
    Plot.line(angularRedPts, {x: "z", y: "v", stroke: RED, strokeWidth: 4.5}),
    Plot.dot(angularPts, {x: "z", y: "v", fill: BLUE, r: 1.7})
  ]
});

makePanel(document.getElementById("pc"), {
  ml: 78, mr: 21.3, mt: 15.7, mb: 48.3, yDomain: [0, 0.18], yTicks: yTicksC, ylabelX: 29, ylabelLen: 195,
  ysegs: [{t: "Δ"}, {t: "z", i: true}, {t: " = "}, {t: "z", i: true}, {t: "o", i: true, sub: true},
          {t: " − ", up: true}, {t: "z", i: true}, {t: "i", i: true, sub: true}, {t: "\u2002(Å)", b: true, up: true}],
  marks: [
    Plot.line(axialRedPts, {x: "z", y: "v", stroke: RED, strokeWidth: 4}),
    Plot.line(axialBluePts, {x: "z", y: "v", stroke: BLUE, strokeWidth: 6.5, strokeLinecap: "round"}),
    Plot.dot([axialBluePts[0], axialBluePts[axialBluePts.length - 1]], {x: "z", y: "v", fill: BLUE, r: 3.7})
  ]
});

// captions: stretch to the reference caption widths
document.querySelectorAll(".cap").forEach(c => {
  const w = c.getBoundingClientRect().width;
  c.style.transform = `translateX(-50%) scaleX(${(+c.dataset.w) / w})`;
});
</script>
</body></html>
